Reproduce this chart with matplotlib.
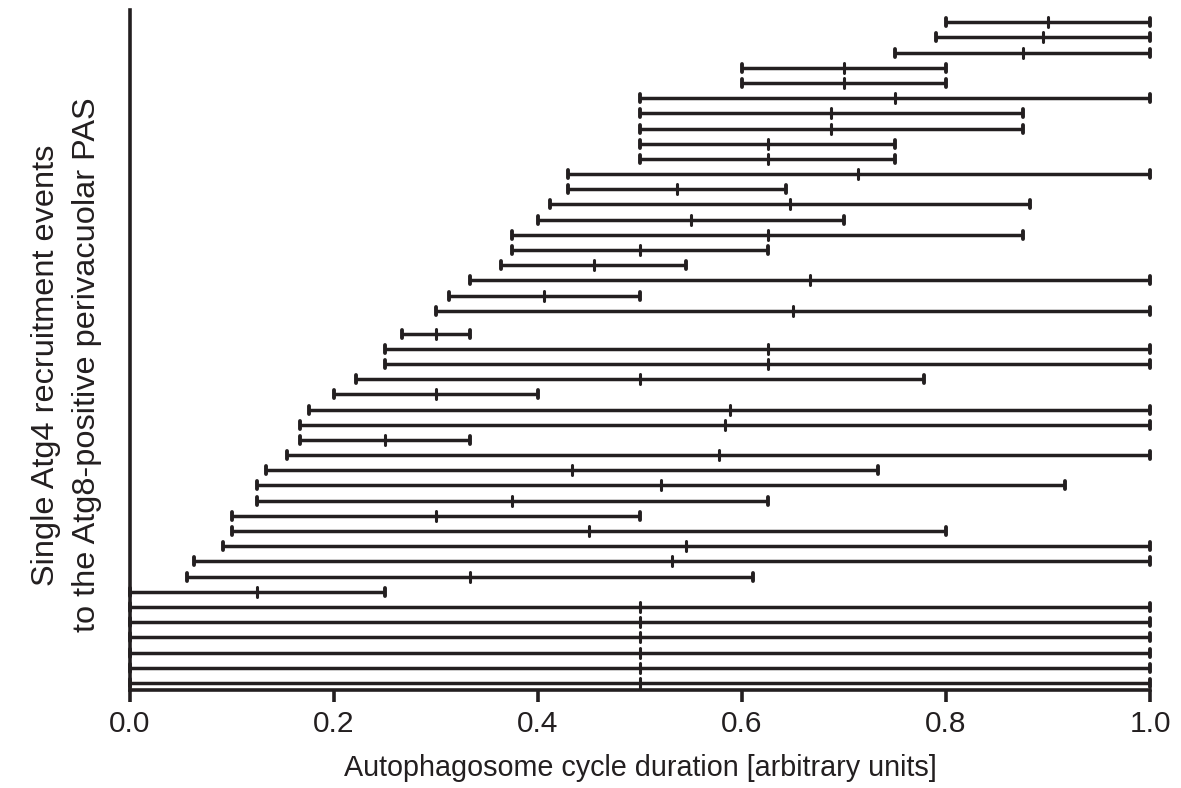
import matplotlib
matplotlib.use('Agg')
import matplotlib.pyplot as plt
from matplotlib.markers import MarkerStyle
import numpy as np

plt.rcParams['font.family'] = ['Liberation Sans', 'DejaVu Sans']

# one row per recruitment event, top to bottom
starts = [0.80, 0.79, 0.75, 0.60, 0.60, 0.50, 0.50, 0.50, 0.50, 0.50,
          0.429, 0.429, 0.412, 0.40, 0.375, 0.375, 0.364, 0.333, 0.3125, 0.30,
          0.267, 0.25, 0.25, 0.222, 0.20, 0.176, 0.167, 0.167, 0.154, 0.133,
          0.125, 0.125, 0.10, 0.10, 0.091, 0.0625, 0.056, 0.0,
          0.0, 0.0, 0.0, 0.0, 0.0, 0.0]
mids = [0.90, 0.895, 0.875, 0.70, 0.70, 0.75, 0.6875, 0.6875, 0.625, 0.625,
        0.714, 0.536, 0.647, 0.55, 0.625, 0.50, 0.455, 0.667, 0.406, 0.65,
        0.30, 0.625, 0.625, 0.50, 0.30, 0.588, 0.583, 0.25, 0.577, 0.433,
        0.521, 0.375, 0.30, 0.45, 0.545, 0.531, 0.333, 0.125,
        0.5, 0.5, 0.5, 0.5, 0.5, 0.5]
ends = [1.0, 1.0, 1.0, 0.80, 0.80, 1.0, 0.875, 0.875, 0.75, 0.75,
        1.0, 0.643, 0.882, 0.70, 0.875, 0.625, 0.545, 1.0, 0.50, 1.0,
        0.333, 1.0, 1.0, 0.778, 0.40, 1.0, 1.0, 0.333, 1.0, 0.733,
        0.917, 0.625, 0.50, 0.80, 1.0, 1.0, 0.611, 0.25,
        1.0, 1.0, 1.0, 1.0, 1.0, 1.0]

xticks = [0.0, 0.2, 0.4, 0.6, 0.8, 1.0]
xlabel = 'Autophagosome cycle duration [arbitrary units]'
ylabel = 'Single Atg4 recruitment events\nto the Atg8-positive perivacuolar PAS'

col = '#231f20'
n = len(starts)
# rows above the 21st sit half a row higher (gap in the original)
ypos = np.array([n - 1 - i + (0.5 if i < 20 else 0.0) for i in range(n)])

fig = plt.figure(figsize=(11.81, 7.88), dpi=100)
ax = fig.add_axes([0.110, 0.1244, 0.8638, 0.8629])

cap = MarkerStyle('|', capstyle='round')
ax.hlines(ypos, starts, ends, color=col, lw=2.5, clip_on=False, zorder=2)
ax.plot(starts, ypos, ls='none', marker=cap, ms=5.5, mew=2.8, color=col, clip_on=False, zorder=3)
ax.plot(ends, ypos, ls='none', marker=cap, ms=5.5, mew=2.8, color=col, clip_on=False, zorder=3)
ax.plot(mids, ypos, ls='none', marker=cap, ms=7.5, mew=2.2, color=col, clip_on=False, zorder=3)

ax.set_xlim(0, 1)
ax.set_ylim(-0.46, 44.3)
ax.set_xticks(xticks)
ax.set_xticklabels(['%.1f' % t for t in xticks])
ax.set_yticks([])
ax.spines['top'].set_visible(False)
ax.spines['right'].set_visible(False)
for s in ['left', 'bottom']:
    ax.spines[s].set_linewidth(2.6)
    ax.spines[s].set_color(col)
ax.tick_params(axis='x', direction='out', length=8.5, width=2.6, color=col,
               labelsize=21.5, pad=6, labelcolor=col)
ax.set_xlabel(xlabel, fontsize=20.7, color=col)
ax.xaxis.set_label_coords(0.5, -0.094)
ax.set_ylabel(ylabel, fontsize=23.4, color=col, linespacing=1.5)
ax.yaxis.set_label_coords(-0.027, 0.478)

fig.savefig('out.png', dpi=100)
